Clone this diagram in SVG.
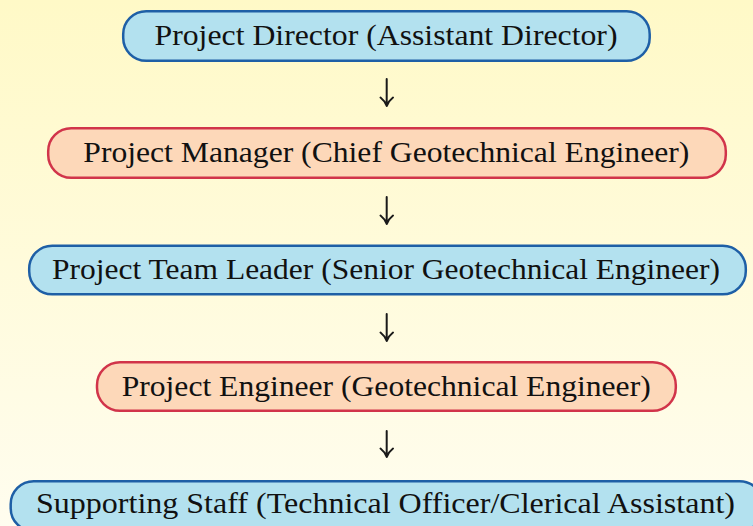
<svg xmlns="http://www.w3.org/2000/svg" width="753" height="526" viewBox="0 0 753 526">
<defs>
<linearGradient id="bg" x1="0" y1="0" x2="0" y2="1">
<stop offset="0" stop-color="#FFF9C7"/>
<stop offset="1" stop-color="#FFFDEF"/>
</linearGradient>
</defs>
<style>
.blue{fill:#B3E1EF;stroke:#1E5FA6;stroke-width:2.5}
.red{fill:#FDD8B9;stroke:#D1344A;stroke-width:2.5}
.lbl{font-family:"Liberation Serif","Times New Roman",serif;font-size:29px;fill:#111}
.conn{fill:none;stroke:#1a1a1a;stroke-width:2;stroke-linecap:round;stroke-linejoin:round}
</style>
<rect x="0" y="0" width="753" height="526" fill="url(#bg)"/>
<g id="connectors">
<path class="conn" d="M386.7,79 V105.5 M380.5,97.5 Q384.5,100.5 386.7,106 Q389,100.5 393,97.5"/>
<path class="conn" d="M386.7,197 V223.5 M380.5,215.5 Q384.5,218.5 386.7,224 Q389,218.5 393,215.5"/>
<path class="conn" d="M386.7,314 V340.5 M380.5,332.5 Q384.5,335.5 386.7,341 Q389,335.5 393,332.5"/>
<path class="conn" d="M386.7,431 V456.5 M380.5,448.5 Q384.5,451.5 386.7,457 Q389,451.5 393,448.5"/>
</g>
<g id="node-director">
<rect class="blue" x="123.2" y="11.2" width="526.5" height="49.6" rx="23" ry="23"/>
<text class="lbl" x="154.5" y="45" textLength="463" lengthAdjust="spacingAndGlyphs">Project Director (Assistant Director)</text>
</g>
<g id="node-manager">
<rect class="red" x="48.2" y="128.2" width="677.6" height="49.6" rx="23" ry="23"/>
<text class="lbl" x="83.3" y="162" textLength="606" lengthAdjust="spacingAndGlyphs">Project Manager (Chief Geotechnical Engineer)</text>
</g>
<g id="node-teamleader">
<rect class="blue" x="29.2" y="245.7" width="716.6" height="48.6" rx="23" ry="23"/>
<text class="lbl" x="52" y="279" textLength="668" lengthAdjust="spacingAndGlyphs">Project Team Leader (Senior Geotechnical Engineer)</text>
</g>
<g id="node-engineer">
<rect class="red" x="97" y="362.2" width="578.8" height="48.6" rx="23" ry="23"/>
<text class="lbl" x="121.7" y="396" textLength="529" lengthAdjust="spacingAndGlyphs">Project Engineer (Geotechnical Engineer)</text>
</g>
<g id="node-staff">
<rect class="blue" x="10.7" y="481.2" width="752" height="50" rx="23" ry="23"/>
<text class="lbl" x="36" y="513" textLength="699" lengthAdjust="spacingAndGlyphs">Supporting Staff (Technical Officer/Clerical Assistant)</text>
</g>
</svg>
